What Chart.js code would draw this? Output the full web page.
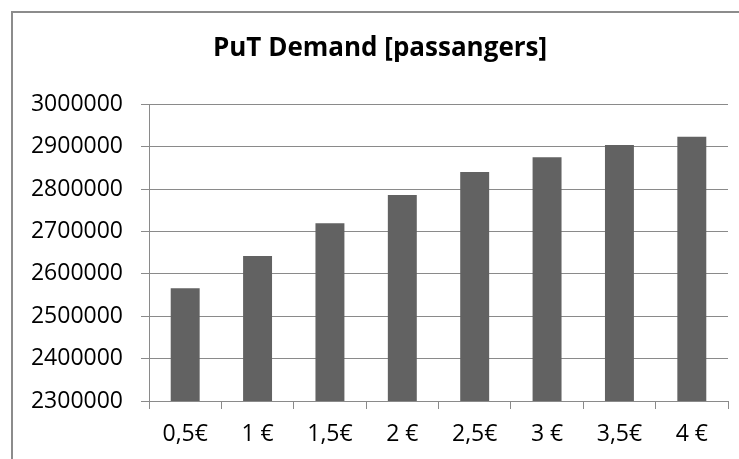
<!DOCTYPE html>
<html>
<head>
<meta charset="utf-8">
<script src="https://cdn.jsdelivr.net/npm/chart.js@4.4.1/dist/chart.umd.min.js"></script>
<style>
  html, body { margin: 0; padding: 0; background: #fff; }
  #wrap { width: 739px; height: 459px; position: relative; }
</style>
</head>
<body>
<div id="wrap"><canvas id="bar-chart" width="739" height="459"></canvas></div>
<script>
// ticket price categories and demand values
const labels = ['0,5€', '1 €', '1,5€', '2 €', '2,5€', '3 €', '3,5€', '4 €'];
const demand = [2566000, 2642000, 2719000, 2786000, 2840000, 2875000, 2904000, 2923000];
const yMin = 2300000;
const yMax = 3000000;
const yStep = 100000;

var gridGray = '#8a8a8a';

// outer chart frame (only left and top edges are visible in the crop)
const framePlugin = {
  id: 'frame',
  beforeDraw: function(chart) {
    var c = chart.ctx;
    c.save();
    c.strokeStyle = '#8c8c8c';
    c.lineWidth = 2;
    c.beginPath();
    c.moveTo(12, 470);
    c.lineTo(12, 12);
    c.lineTo(750, 12);
    c.stroke();
    c.restore();
  }
};

const data = {
  labels: labels,
  datasets: [{
    label: 'PuT Demand',
    data: demand,
    backgroundColor: '#626262',
    borderWidth: 0,
    barPercentage: 0.4,
    categoryPercentage: 1.0
  }]
};

const config = {
  type: 'bar',
  data: data,
  options: {
    responsive: false,
    animation: false,
    layout: {
      padding: { left: 32, right: 11, top: 0, bottom: 0 }
    },
    plugins: {
      legend: { display: false },
      tooltip: { enabled: false },
      title: {
        display: true,
        text: 'PuT Demand [passangers]',
        color: '#000',
        font: { family: 'Open Sans', size: 26, weight: 'bold' },
        padding: { top: 33, bottom: 40 }
      }
    },
    scales: {
      x: {
        grid: {
          display: true,
          drawOnChartArea: false,
          drawTicks: true,
          tickLength: 8,
          offset: true,
          color: gridGray
        },
        border: { display: true, color: gridGray, width: 1 },
        ticks: {
          color: '#000',
          font: { family: 'Open Sans', size: 23 },
          padding: 12,
          maxRotation: 0
        },
        afterFit: function(scale) { scale.height = 58; }
      },
      y: {
        min: yMin,
        max: yMax,
        grid: {
          color: gridGray,
          lineWidth: 1,
          drawTicks: true,
          tickLength: 8
        },
        border: { display: true, color: gridGray, width: 1 },
        ticks: {
          stepSize: yStep,
          color: '#000',
          font: { family: 'Open Sans', size: 23 },
          padding: 18,
          callback: function(v) { return String(v); }
        },
        afterFit: function(scale) { scale.width = 117; }
      }
    }
  },
  plugins: [framePlugin]
};

var ctx = document.getElementById('bar-chart');
var chart = new Chart(ctx, config);
</script>
</body>
</html>
